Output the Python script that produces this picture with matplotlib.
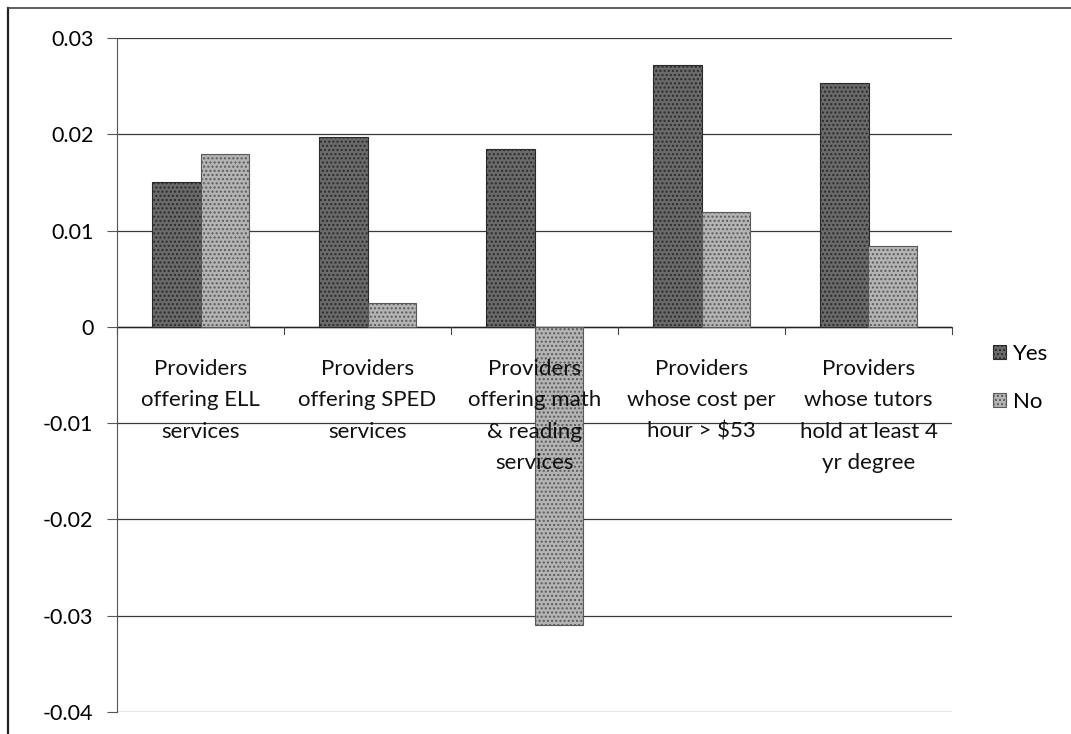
"""Bar chart: provider characteristics, Yes vs No effect."""
import matplotlib
matplotlib.use("Agg")
import matplotlib.pyplot as plt
import numpy as np
from matplotlib.lines import Line2D

categories = [
    "Providers\noffering ELL\nservices",
    "Providers\noffering SPED\nservices",
    "Providers\noffering math\n& reading\nservices",
    "Providers\nwhose cost per\nhour > $53",
    "Providers\nwhose tutors\nhold at least 4\nyr degree",
]
yes_vals = [0.0150, 0.0197, 0.0185, 0.0272, 0.0253]
no_vals = [0.0180, 0.0025, -0.0310, 0.0119, 0.0084]
series_names = ["Yes", "No"]
yticks = [0.03, 0.02, 0.01, 0, -0.01, -0.02, -0.03, -0.04]
ytick_labels = ["0.03", "0.02", "0.01", "0", "-0.01", "-0.02", "-0.03", "-0.04"]

FONT = ["Lato", "DejaVu Sans"]
plt.rcParams["font.family"] = FONT
plt.rcParams["hatch.color"] = "#8a8a8a"

W, H = 1071, 734
fig = plt.figure(figsize=(W / 100, H / 100), dpi=100)
ax = fig.add_axes([117 / W, 1 - 712 / H, (952 - 117) / W, (712 - 38) / H])

x = np.arange(len(categories))
bw = 0.29
ax.bar(x - bw / 2, yes_vals, bw, color="#6a6a6a", edgecolor="#2a2a2a",
       linewidth=0.8, hatch="....", label=series_names[0], zorder=3)
ax.bar(x + bw / 2, no_vals, bw, color="#b4b4b4", edgecolor="#5a5a5a",
       linewidth=0.8, hatch="....", label=series_names[1], zorder=3)

ax.set_xlim(-0.5, len(categories) - 0.5)
ax.set_ylim(-0.04, 0.03)
ax.set_yticks(yticks)
ax.set_yticklabels(ytick_labels, fontsize=15.5)
ax.yaxis.grid(True, color="#3a3a3a", linewidth=0.9, zorder=0)
ax.set_axisbelow(True)
ax.tick_params(axis="y", length=7, width=0.8, color="#555555", pad=10)
ax.set_xticks([])
for s in ["top", "right", "bottom"]:
    ax.spines[s].set_visible(False)
ax.spines["left"].set_color("#555555")
ax.spines["left"].set_linewidth(0.8)

# zero axis line with category separator ticks
ax.axhline(0, color="#222222", linewidth=1.0, zorder=2)
for b in np.arange(len(categories) + 1) - 0.5:
    ax.plot([b, b], [0, -0.0007], color="#444444", linewidth=0.8,
            clip_on=False, zorder=2)

for xi, lab in zip(x, categories):
    ax.annotate(lab, (xi, 0), xytext=(0, -23), textcoords="offset points",
                ha="center", va="top", fontsize=16, linespacing=1.72,
                color="#111111", zorder=4)

leg = ax.legend(loc="upper left", bbox_to_anchor=(1.025, 0.576), frameon=False,
                fontsize=16, handlelength=0.6, handleheight=0.6,
                handletextpad=0.3, labelspacing=1.25)

# outer chart border
fig.add_artist(Line2D([8 / W, 8 / W], [0, 1 - 8 / H], color="#222222",
                      linewidth=1.6, transform=fig.transFigure))
fig.add_artist(Line2D([8 / W, 1], [1 - 8 / H, 1 - 8 / H], color="#444444",
                      linewidth=1.2, transform=fig.transFigure))

fig.savefig("out.png", dpi=100)
plt.close(fig)
